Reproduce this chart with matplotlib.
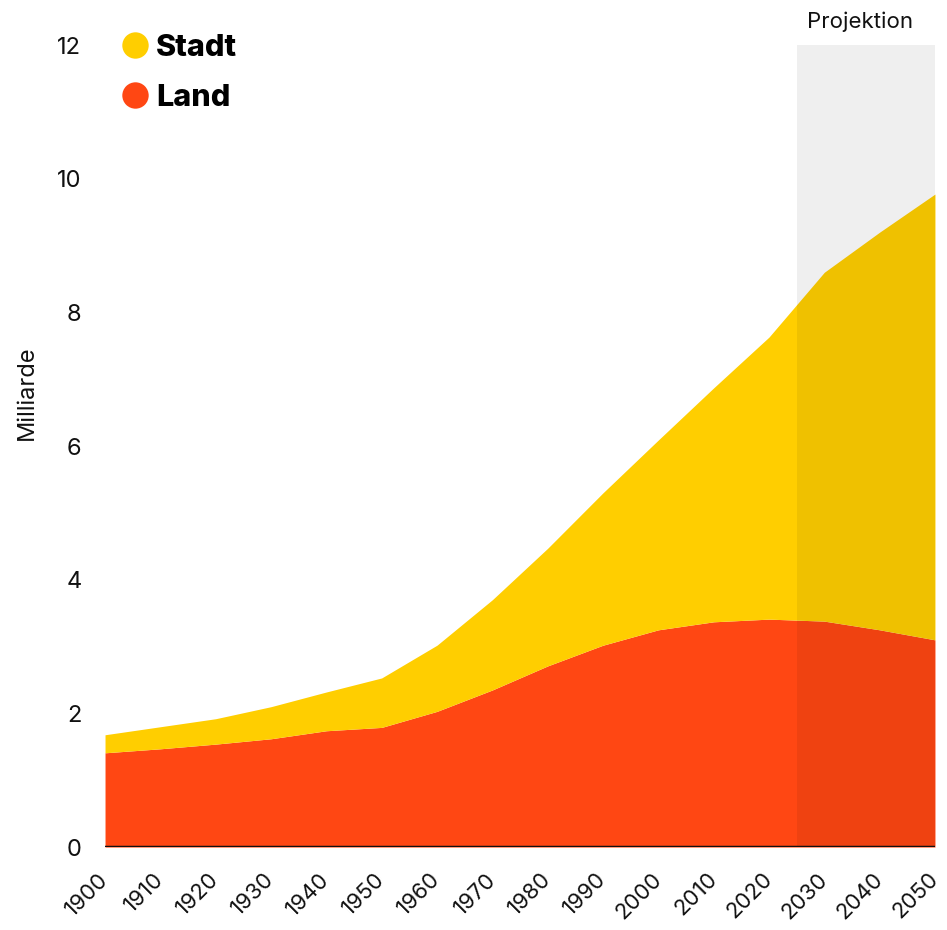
import numpy as np
import matplotlib
matplotlib.use("Agg")
from matplotlib import pyplot as plt
from matplotlib import transforms

plt.rcParams['font.family'] = ['Inter', 'DejaVu Sans']

# Weltbevölkerung in Milliarden, Stadt und Land
years = [1900, 1910, 1920, 1930, 1940, 1950, 1960, 1970, 1980, 1990,
         2000, 2010, 2020, 2030, 2040, 2050]
total = [1.68, 1.80, 1.92, 2.10, 2.32, 2.53, 3.02, 3.70, 4.47, 5.30,
         6.09, 6.87, 7.63, 8.60, 9.20, 9.77]
land = [1.41, 1.47, 1.54, 1.62, 1.74, 1.79, 2.03, 2.35, 2.71, 3.02,
        3.25, 3.37, 3.41, 3.38, 3.25, 3.10]
yticks = [0, 2, 4, 6, 8, 10, 12]
proj_start, proj_end = 2025, 2050

c_stadt = '#ffce00'
c_land = '#ff4713'

fig = plt.figure(figsize=(9.47, 9.3), dpi=100)
ax = fig.add_axes([0.1109, 0.0892, 0.8764, 0.8624])

x = np.array(years)
ax.fill_between(x, 0, land, color=c_land, lw=0, zorder=1)
ax.fill_between(x, land, total, color=c_stadt, lw=0, zorder=1)

# Projektionszeitraum
ax.axvspan(proj_start, proj_end, color='black', alpha=0.062, lw=0, zorder=3)
ax.text((proj_start + proj_end) / 2 - 1, 12.2, 'Projektion', ha='center',
        va='bottom', fontsize=16, color='#111111')

ax.axhline(0, color='#111111', lw=2.5, zorder=4)

ax.set_xlim(1900, 2050)
ax.set_ylim(0, 12)
ax.set_xticks(years)
ax.set_xticklabels([])
# Jahreszahlen schräg, etwas nach links versetzt
off = transforms.ScaledTranslation(-7 / 100, -22 / 100, fig.dpi_scale_trans)
for yr in years:
    ax.text(yr, 0, str(yr), transform=ax.get_xaxis_transform() + off,
            rotation=45, ha='right', va='top', rotation_mode='anchor',
            fontsize=16, color='#111111')
ax.set_yticks(yticks)
ax.set_yticklabels([str(v) for v in yticks], fontsize=17)
ax.tick_params(axis='both', length=0, colors='#111111')
ax.tick_params(axis='y', pad=17)
for s in ax.spines.values():
    s.set_visible(False)

ax.set_ylabel('Milliarde', fontsize=17, color='#111111')
ax.yaxis.set_label_coords(-0.081, 0.566)

# Legende
for yy, name, col in [(12.0, 'Stadt', c_stadt), (11.25, 'Land', c_land)]:
    ax.plot([1905.4], [yy], 'o', ms=19, color=col, mec='none',
            clip_on=False, zorder=5)
    ax.text(1909.2, yy - 0.05, name, fontsize=22, fontweight='heavy',
            va='center', ha='left', color='black')

fig.savefig('out.png', dpi=100)
